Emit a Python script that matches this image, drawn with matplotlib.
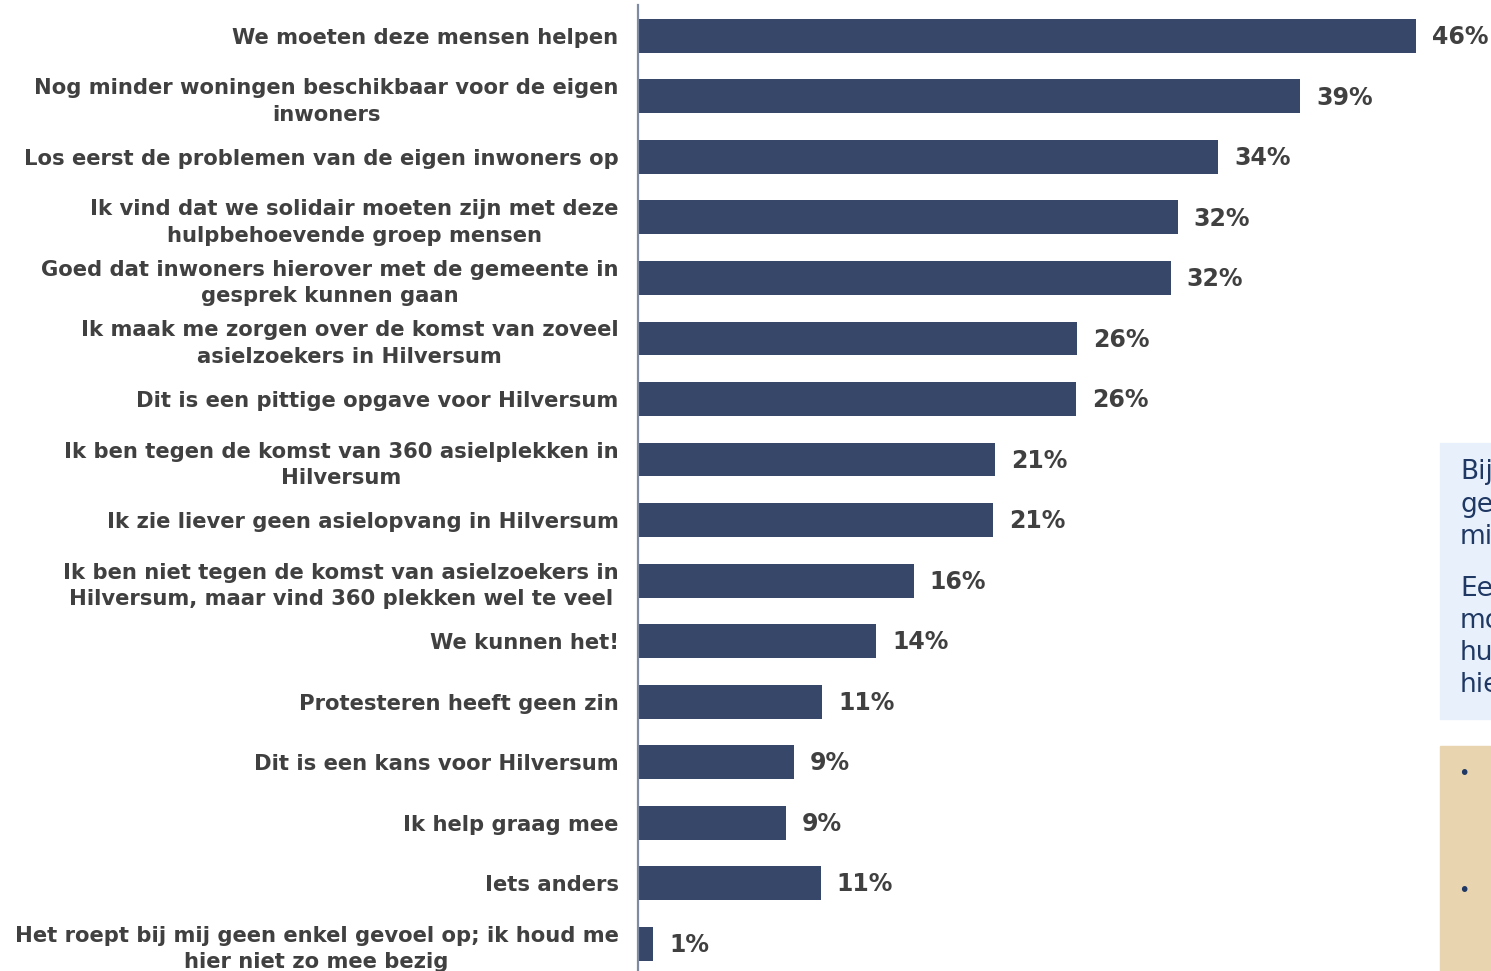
import matplotlib
matplotlib.use("Agg")
import matplotlib.pyplot as plt
from matplotlib.patches import Rectangle

categories = [
    "We moeten deze mensen helpen",
    "Nog minder woningen beschikbaar voor de eigen\ninwoners",
    "Los eerst de problemen van de eigen inwoners op",
    "Ik vind dat we solidair moeten zijn met deze\nhulpbehoevende groep mensen",
    "Goed dat inwoners hierover met de gemeente in\ngesprek kunnen gaan",
    "Ik maak me zorgen over de komst van zoveel\nasielzoekers in Hilversum",
    "Dit is een pittige opgave voor Hilversum",
    "Ik ben tegen de komst van 360 asielplekken in\nHilversum",
    "Ik zie liever geen asielopvang in Hilversum",
    "Ik ben niet tegen de komst van asielzoekers in\nHilversum, maar vind 360 plekken wel te veel",
    "We kunnen het!",
    "Protesteren heeft geen zin",
    "Dit is een kans voor Hilversum",
    "Ik help graag mee",
    "Iets anders",
    "Het roept bij mij geen enkel gevoel op; ik houd me\nhier niet zo mee bezig",
]
values = [46.0, 39.15, 34.3, 31.9, 31.5, 25.95, 25.9, 21.1, 21.0, 16.3, 14.1, 10.9, 9.2, 8.75, 10.8, 0.9]
value_labels = ["46%", "39%", "34%", "32%", "32%", "26%", "26%", "21%", "21%", "16%",
                "14%", "11%", "9%", "9%", "11%", "1%"]

side_text_lines = ["Bij", "ge", "mi", "", "Ee", "mo", "hu", "hie"]

W, H = 1491, 971
fig = plt.figure(figsize=(W / 100, H / 100), dpi=100)

bar_color = "#36476A"
text_color = "#404040"

ax_left = 638 / W
ax_right = 1440 / W
ax = fig.add_axes([ax_left, 0, ax_right - ax_left, (971 - 5) / H])

y = list(range(len(categories)))
ax.barh(y, values, height=0.56, color=bar_color)
ax.set_ylim(15.45, -0.51)
px_per_pct = (1416 - 638) / 46.0
ax.set_xlim(0, (1440 - 638) / px_per_pct)

for i, (v, lab) in enumerate(zip(values, value_labels)):
    ax.text(v + 16 / px_per_pct, i + 0.02, lab, va="center", ha="left",
            fontsize=17, fontweight="bold", color=text_color, clip_on=False)

ax.set_yticks(y)
ax.set_yticklabels(categories, fontsize=15.2, fontweight="bold", color=text_color,
                   linespacing=1.4)
ax.tick_params(axis="y", length=0, pad=14)
ax.set_xticks([])
for s in ["top", "right", "bottom"]:
    ax.spines[s].set_visible(False)
ax.spines["left"].set_color("#7F8BA3")
ax.spines["left"].set_linewidth(1.6)
for t in ax.get_yticklabels():
    t.set_horizontalalignment("right")
    t.set_multialignment("center")

# right-side panels (cut off by figure edge)
fig.patches.append(Rectangle((1440 / W, 1 - 719 / H), 60 / W, (719 - 443) / H,
                             transform=fig.transFigure, color="#E8F1FB", zorder=0))
fig.patches.append(Rectangle((1440 / W, 0), 60 / W, (971 - 746) / H,
                             transform=fig.transFigure, color="#E8D5B0", zorder=0))
line_y = [472, 505, 537, None, 589, 621, 653, 685]
for txt, yy in zip(side_text_lines, line_y):
    if yy is None:
        continue
    fig.text(1460 / W, 1 - yy / H, txt, fontsize=19, color="#1F3864",
             va="center", ha="left")
for yy in [773, 890]:
    fig.text(1464 / W, 1 - yy / H, "•", fontsize=14, color="#1F3864",
             va="center", ha="center")

fig.savefig("out.png", dpi=100)
